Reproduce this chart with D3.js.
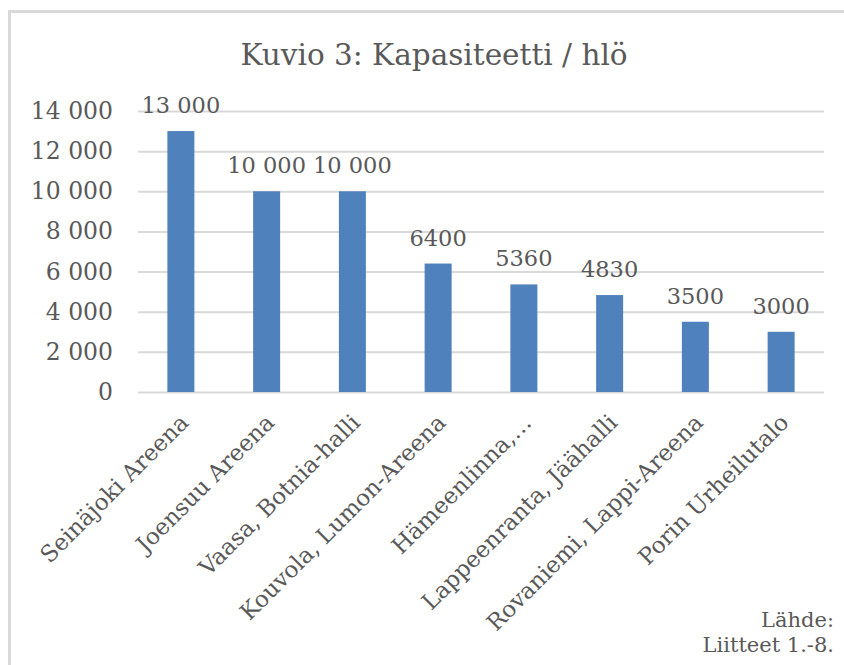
<!DOCTYPE html>
<html>
<head>
<meta charset="utf-8">
<script src="https://cdn.jsdelivr.net/npm/d3@7"></script>
<style>
  html, body { margin: 0; padding: 0; background: #fff; }
  svg { display: block; }
  text { font-family: 'DejaVu Serif', serif; fill: #595959; }
</style>
</head>
<body>
<svg id="chart" width="844" height="665"></svg>
<script>
// data
const categories = [
  'Seinäjoki Areena',
  'Joensuu Areena',
  'Vaasa, Botnia-halli',
  'Kouvola, Lumon-Areena',
  'Hämeenlinna,…',
  'Lappeenranta, Jäähalli',
  'Rovaniemi, Lappi-Areena',
  'Porin Urheilutalo'
]
const capacity = [13000, 10000, 10000, 6400, 5360, 4830, 3500, 3000]
const yTicks = [0, 2000, 4000, 6000, 8000, 10000, 12000, 14000]
const titleText = 'Kuvio 3: Kapasiteetti / hlö'
const sourceLines = ['Lähde:', 'Liitteet 1.-8.']

const plot = { left: 138, right: 824, top: 111, bottom: 392 }
const barColor = '#4f81bd'
const gridColor = '#d9d9d9'

const locale = d3.formatLocale({ decimal: ',', thousands: ' ', grouping: [3], currency: ['', ' €'] })
const tickFormat = locale.format(',d')
// Excel leaves four digit numbers without the space
const labelFormat = v => v >= 10000 ? tickFormat(v) : String(v)

const svg = d3.select('#chart')

// frame of the pasted chart
svg.append('path')
  .attr('d', 'M9.5,665 V11.5 H844')
  .attr('fill', 'none')
  .attr('stroke', gridColor)
  .attr('stroke-width', 3)

const x =
  d3.scaleBand()
    .domain(categories)
    .range([plot.left, plot.right])
    .paddingInner(0.685)
    .paddingOuter(0.3425)

const y =
  d3.scaleLinear()
    .domain([0, 14000])
    .range([plot.bottom, plot.top])

const yAxis =
  d3.axisLeft(y)
    .tickValues(yTicks)
    .tickSize(-(plot.right - plot.left))
    .tickPadding(25)
    .tickFormat(tickFormat)

const gy =
  svg.append('g')
    .attr('class', 'chart__y-axis')
    .attr('transform', `translate(${plot.left}, 0)`)
    .call(yAxis)

gy.select('.domain').remove()
gy.selectAll('.tick line')
  .attr('stroke', gridColor)
  .attr('stroke-width', 2)
gy.selectAll('.tick text')
  .attr('font-size', 23.5)
  .attr('fill', '#595959')
  .attr('font-family', "'DejaVu Serif', serif")

svg.append('g')
  .attr('class', 'bars')
  .selectAll('rect')
  .data(capacity)
  .join('rect')
    .attr('x', (d, i) => x(categories[i]))
    .attr('y', d => y(d))
    .attr('width', x.bandwidth())
    .attr('height', d => y(0) - y(d))
    .attr('fill', barColor)

svg.append('g')
  .attr('class', 'data-labels')
  .selectAll('text')
  .data(capacity)
  .join('text')
    .attr('x', (d, i) => x(categories[i]) + x.bandwidth() / 2)
    .attr('y', d => y(d) - 18)
    .attr('text-anchor', 'middle')
    .attr('font-size', 22.5)
    .text(labelFormat)

svg.append('g')
  .attr('class', 'chart__x-axis')
  .selectAll('text')
  .data(categories)
  .join('text')
    .attr('transform', d => `translate(${x(d) + x.bandwidth() / 2 + 9}, ${plot.bottom + 32}) rotate(-45)`)
    .attr('text-anchor', 'end')
    .attr('font-size', 23)
    .text(d => d)

svg.append('text')
  .attr('x', 434)
  .attr('y', 65)
  .attr('text-anchor', 'middle')
  .attr('font-size', 29.5)
  .text(titleText)

svg.append('g')
  .attr('class', 'source')
  .selectAll('text')
  .data(sourceLines)
  .join('text')
    .attr('x', 834)
    .attr('y', (d, i) => 627 + i * 25)
    .attr('text-anchor', 'end')
    .attr('font-size', 21)
    .text(d => d)
</script>
</body>
</html>
